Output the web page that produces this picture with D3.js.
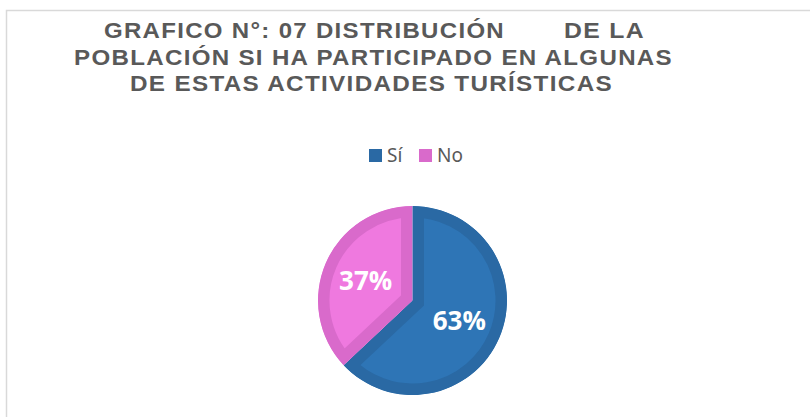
<!DOCTYPE html>
<html>
<head>
<meta charset="utf-8">
<script src="https://cdn.jsdelivr.net/npm/d3@7"></script>
<style>
  body { margin: 0; background: #fff; }
  #chart { width: 810px; height: 417px; }
</style>
</head>
<body>
<div id="chart"></div>
<script>
var categories = ["Sí", "No"];
var values = [63, 37];
var fillColors = ["#2E75B6", "#EF79DF"];
var edgeColors = ["#2A69A4", "#D96ACB"];
var titleLines = [
  ["GRAFICO N°: 07 DISTRIBUCIÓN", "DE LA"],
  ["POBLACIÓN SI HA PARTICIPADO EN ALGUNAS"],
  ["DE ESTAS ACTIVIDADES TURÍSTICAS"]
];

var container = d3.select("#chart");
var width = 810, height = 417;
var svg = container.append("svg")
  .attr("width", width)
  .attr("height", height);

// chart frame
svg.append("rect")
  .attr("x", 6.5).attr("y", 10.5)
  .attr("width", 830).attr("height", 430)
  .attr("fill", "none")
  .attr("stroke", "#d9d9d9")
  .attr("stroke-width", 1.5);

// title, fitted to the widths of the original lines
var titleSpans = [
  { t: titleLines[0][0], x: 104, w: 401, y: 38 },
  { t: titleLines[0][1], x: 564, w: 81, y: 38 },
  { t: titleLines[1][0], x: 74, w: 599, y: 65 },
  { t: titleLines[2][0], x: 130, w: 483, y: 91 }
];
svg.append("g")
  .selectAll("text")
  .data(titleSpans)
  .enter()
  .append("text")
  .attr("x", d => d.x)
  .attr("y", d => d.y)
  .attr("textLength", d => d.w)
  .attr("lengthAdjust", "spacingAndGlyphs")
  .attr("letter-spacing", 1.2)
  .attr("font-family", "Liberation Sans, Arial, sans-serif")
  .attr("font-weight", "bold")
  .attr("font-size", 22)
  .attr("fill", "#595959")
  .text(d => d.t);

// legend
var legX = d3.scaleOrdinal().domain(categories).range([369, 419]);
var leg = svg.append("g")
  .selectAll("g")
  .data(categories)
  .enter()
  .append("g")
  .attr("transform", d => `translate(${legX(d)}, 149)`);
leg.append("rect")
  .attr("width", 13).attr("height", 13)
  .attr("fill", (d, i) => edgeColors[i]);
leg.append("text")
  .attr("x", 18).attr("y", 13)
  .attr("font-family", "Noto Sans, Open Sans, sans-serif")
  .attr("font-size", 19)
  .attr("fill", "#595959")
  .text(d => d);

// pie
var cx = 412.5, cy = 300.5, R = 94.5;
var pieMkr = d3.pie().sort(null).value(d => d);
var arcMkr = d3.arc().innerRadius(0).outerRadius(R);
var lblArc = d3.arc().innerRadius(51).outerRadius(51);
var arcs = pieMkr(values);

var g = svg.append("g").attr("transform", `translate(${cx}, ${cy})`);
var defs = svg.append("defs");
defs.selectAll("clipPath")
  .data(arcs)
  .enter()
  .append("clipPath")
  .attr("id", (d, i) => "clip" + i)
  .append("path")
  .attr("d", arcMkr);

g.selectAll("path.slice")
  .data(arcs)
  .enter()
  .append("path")
  .attr("class", "slice")
  .attr("d", arcMkr)
  .attr("fill", (d, i) => fillColors[i])
  .attr("stroke", (d, i) => edgeColors[i])
  .attr("stroke-width", 23)
  .attr("stroke-linejoin", "miter")
  .attr("clip-path", (d, i) => `url(#clip${i})`);

g.selectAll("text")
  .data(arcs)
  .enter()
  .append("text")
  .attr("transform", d => `translate(${lblArc.centroid(d)})`)
  .attr("text-anchor", "middle")
  .attr("dy", "0.36em")
  .attr("font-family", "Open Sans, sans-serif")
  .attr("font-weight", "bold")
  .attr("font-size", 26)
  .attr("fill", "#fff")
  .text(d => d.data + "%");
</script>
</body>
</html>
